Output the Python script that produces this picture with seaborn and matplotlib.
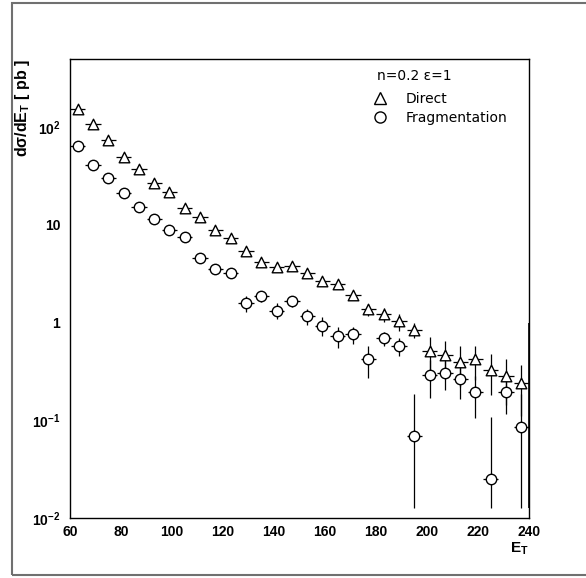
import matplotlib
matplotlib.use("Agg")
import matplotlib.pyplot as plt
import seaborn as sns
from matplotlib.lines import Line2D
from matplotlib.patches import Rectangle
from matplotlib.ticker import FixedLocator, FixedFormatter, LogLocator, MultipleLocator, NullFormatter

# bin centres (E_T, GeV) and half bin width
et = [63, 69, 75, 81, 87, 93, 99, 105, 111, 117, 123, 129, 135, 141, 147,
      153, 159, 165, 171, 177, 183, 189, 195, 201, 207, 213, 219, 225, 231, 237]
half_bin = 3

# direct photons
direct = [155, 107, 74, 50, 37, 27, 21.7, 14.9, 12.1, 8.9, 7.4, 5.4, 4.2, 3.67, 3.8,
          3.19, 2.7, 2.5, 1.94, 1.37, 1.22, 1.03, 0.85, 0.51, 0.47, 0.40, 0.42, 0.33, 0.285, 0.24]
direct_err = [2, 1.5, 1, 0.7, 0.5, 0.4, 0.35, 0.25, 0.22, 0.17, 0.15, 0.12, 0.1, 0.09, 0.09,
              0.08, 0.08, 0.08, 0.07, 0.2, 0.2, 0.2, 0.15, 0.2, 0.18, 0.18, 0.16, 0.15, 0.14, 0.13]

# fragmentation photons
frag = [65, 41, 30, 21, 15.3, 11.5, 8.8, 7.5, 4.6, 3.5, 3.2, 1.59, 1.86, 1.33, 1.66,
        1.17, 0.93, 0.73, 0.76, 0.42, 0.69, 0.58, 0.069, 0.29, 0.305, 0.265, 0.196, 0.0248, 0.196, 0.086]
frag_err_lo = [1.5, 1, 0.8, 0.6, 0.5, 0.4, 0.35, 0.3, 0.25, 0.2, 0.2, 0.3, 0.25, 0.25, 0.2,
               0.22, 0.2, 0.18, 0.15, 0.15, 0.12, 0.12, 0.0564, 0.12, 0.1, 0.1, 0.09, 0.0122, 0.08, 0.0734]
frag_err_hi = [1.5, 1, 0.8, 0.6, 0.5, 0.4, 0.35, 0.3, 0.25, 0.2, 0.2, 0.3, 0.25, 0.25, 0.2,
               0.22, 0.2, 0.18, 0.15, 0.15, 0.12, 0.12, 0.118, 0.12, 0.1, 0.1, 0.09, 0.083, 0.08, 0.1]

# overflow bar drawn on the right edge
edge_x = [240]
edge_lo = [0.0126]
edge_hi = [1.0]

x_ticks = [60, 80, 100, 120, 140, 160, 180, 200, 220, 240]
y_ticks = [0.01, 0.1, 1, 10, 100]
y_labels = [r"$\mathbf{10^{-2}}$", r"$\mathbf{10^{-1}}$", "1", "10", r"$\mathbf{10^{2}}$"]

sns.set_theme(style="white")
plt.rcParams["font.family"] = ["Liberation Sans", "DejaVu Sans"]
plt.rcParams["mathtext.fontset"] = "custom"
plt.rcParams["mathtext.rm"] = "Liberation Sans"
plt.rcParams["mathtext.bf"] = "Liberation Sans:bold"
plt.rcParams["mathtext.it"] = "Liberation Sans:italic"
for key in ["text.color", "axes.labelcolor", "xtick.color", "ytick.color"]:
    plt.rcParams[key] = "black"

fig = plt.figure(figsize=(5.86, 5.78), dpi=100)
ax = fig.add_axes([70 / 586, 60 / 578, 459 / 586, 459 / 578])

ax.errorbar(et, direct, xerr=half_bin, yerr=direct_err, fmt="none",
            ecolor="black", elinewidth=0.9, zorder=2)
ax.errorbar(et, frag, xerr=half_bin, yerr=[frag_err_lo, frag_err_hi], fmt="none",
            ecolor="black", elinewidth=0.9, zorder=2)
ax.vlines(edge_x, edge_lo, edge_hi, color="black", lw=1.2, zorder=2)

sns.scatterplot(x=et, y=direct, marker="^", s=58, facecolor="white",
                edgecolor="black", linewidth=1.0, zorder=3, ax=ax, legend=False)
sns.scatterplot(x=et, y=frag, marker="o", s=56, facecolor="white",
                edgecolor="black", linewidth=1.0, zorder=3, ax=ax, legend=False)

ax.set_yscale("log")
ax.set_xlim(60, 240)
ax.set_ylim(0.01, 500)

ax.xaxis.set_major_locator(FixedLocator(x_ticks))
ax.xaxis.set_minor_locator(MultipleLocator(5))
ax.set_xticklabels([str(t) for t in x_ticks], fontweight="bold", fontsize=10)
ax.yaxis.set_major_locator(FixedLocator(y_ticks))
ax.yaxis.set_major_formatter(FixedFormatter(y_labels))
ax.yaxis.set_minor_locator(LogLocator(base=10, subs=range(2, 10)))
ax.yaxis.set_minor_formatter(NullFormatter())
for lab in ax.get_yticklabels():
    lab.set_fontweight("bold")
    lab.set_fontsize(10)

ax.tick_params(which="both", direction="in", top=False, right=False, colors="black")
ax.tick_params(which="major", length=8, width=1)
ax.tick_params(which="minor", length=4, width=1)
ax.tick_params(axis="x", which="major", pad=5)
ax.tick_params(axis="y", which="major", pad=7)

for s in ax.spines.values():
    s.set_color("black")
    s.set_linewidth(1.0)

ax.set_ylabel(r"d$\mathbf{\sigma}$/dE$_\mathbf{T}$ [ pb ]", loc="top",
              fontweight="bold", fontsize=11.5, color="black")
ax.yaxis.set_label_coords(-0.083, 1.0)
ax.set_xlabel(r"E$_\mathbf{T}$", loc="right", fontweight="bold", fontsize=11,
              labelpad=1, color="black")

ax.text(0.669, 0.963, "n=0.2 ε=1", transform=ax.transAxes, va="center", ha="left",
        family="DejaVu Sans", fontsize=10, color="black")
handles = [Line2D([], [], marker="^", ls="none", mfc="white", mec="black", ms=8, mew=1.0),
           Line2D([], [], marker="o", ls="none", mfc="white", mec="black", ms=8, mew=1.0)]
ax.legend(handles, ["Direct", "Fragmentation"], loc="upper left",
          bbox_to_anchor=(0.643, 0.943), frameon=False, borderpad=0,
          handlelength=1.2, handletextpad=1.2, labelspacing=0.35,
          prop={"family": "DejaVu Sans", "size": 10}, labelcolor="black")

fig.add_artist(Rectangle((12 / 586, 3 / 578), 1.0, 572 / 578, transform=fig.transFigure,
                         fill=False, edgecolor="#707070", lw=1.5))

fig.savefig("out.png", dpi=100)
